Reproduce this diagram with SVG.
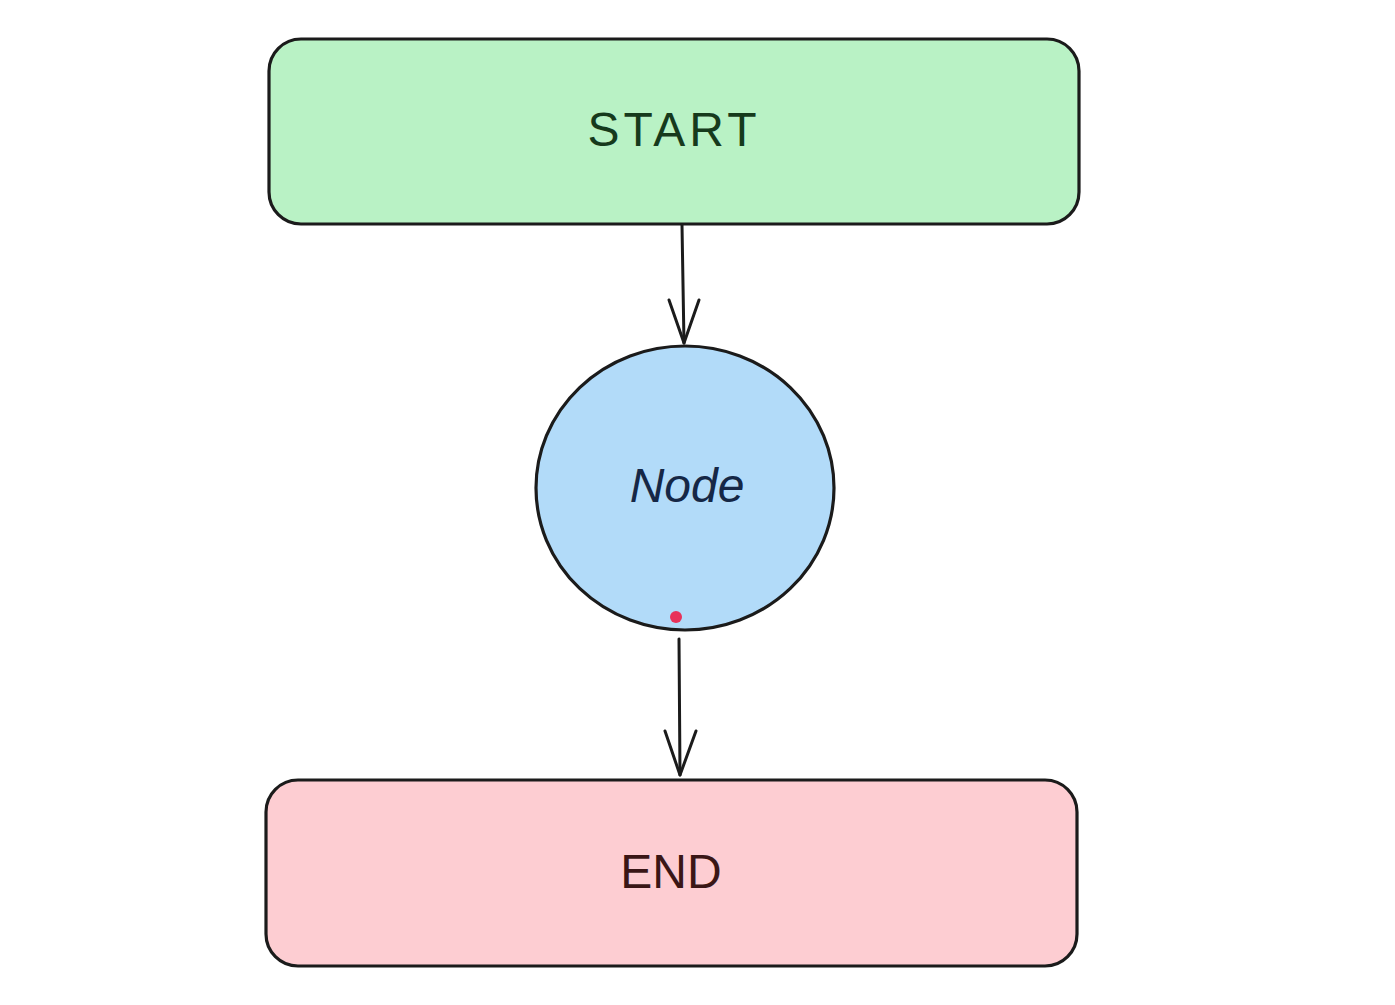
<svg xmlns="http://www.w3.org/2000/svg" width="1395" height="1005" viewBox="0 0 1395 1005">
<style>
.box{stroke:#1b1b1b;stroke-width:3.2;stroke-linejoin:round}
.lbl{font-family:"Liberation Sans",Arial,sans-serif;font-size:48px;text-anchor:middle}
.conn{fill:none;stroke:#1b1b1b;stroke-width:3;stroke-linecap:round;stroke-linejoin:round}
</style>
<rect width="1395" height="1005" fill="#ffffff"/>
<g id="start">
<rect class="box" x="269" y="39" width="810" height="185" rx="32" fill="#b9f2c5"/>
<text class="lbl" x="674" y="146" fill="#163a1c" letter-spacing="4">START</text>
</g>
<g id="node">
<ellipse class="box" cx="685" cy="488" rx="149" ry="142" fill="#b2dbf9"/>
<text class="lbl" x="687" y="502" fill="#152746" font-style="italic">Node</text>
<circle cx="676" cy="617" r="6" fill="#e8325a"/>
</g>
<g id="end">
<rect class="box" x="266" y="780" width="811" height="186" rx="32" fill="#fdcdd2"/>
<text class="lbl" x="671" y="888" fill="#3a1616">END</text>
</g>
<g id="connectors">
<path class="conn" d="M682 225 L684 343"/>
<path class="conn" d="M669 300 L684 343 L699 300"/>
<path class="conn" d="M679 639 L680 775"/>
<path class="conn" d="M665 731 L680 775 L696 731"/>
</g>
</svg>
